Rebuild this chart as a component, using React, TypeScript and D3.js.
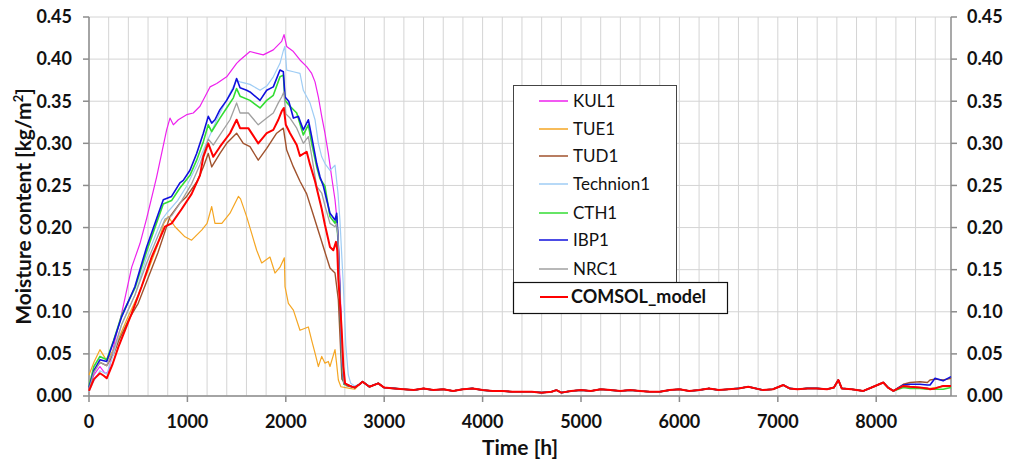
import React from "react";
import * as d3 from "d3";

// ---------- data ----------
const xTicks = [0, 1000, 2000, 3000, 4000, 5000, 6000, 7000, 8000];
const yTicks = [0, 0.05, 0.1, 0.15, 0.2, 0.25, 0.3, 0.35, 0.4, 0.45];

// shared low tail (all series overlap here)
const tailHours = [2750, 2780, 2850, 2940, 3000, 3100, 3200, 3300, 3400, 3500, 3600, 3700, 3800, 3900, 4000, 4100, 4200, 4300, 4400, 4500, 4600, 4700, 4750, 4800, 4900, 5000, 5100, 5200, 5300, 5400, 5500, 5600, 5700, 5800, 5900, 6000, 6100, 6200, 6300, 6400, 6500, 6600, 6700, 6850, 6950, 7056, 7120, 7200, 7300, 7395, 7500, 7570, 7615, 7650, 7750, 7869, 7971, 8072, 8120, 8174];
const tailValues = [0.014, 0.017, 0.011, 0.015, 0.010, 0.009, 0.008, 0.007, 0.009, 0.007, 0.008, 0.006, 0.008, 0.009, 0.007, 0.006, 0.006, 0.005, 0.005, 0.005, 0.004, 0.005, 0.007, 0.004, 0.006, 0.007, 0.006, 0.008, 0.007, 0.006, 0.007, 0.006, 0.005, 0.005, 0.007, 0.008, 0.006, 0.007, 0.009, 0.007, 0.008, 0.009, 0.011, 0.007, 0.008, 0.013, 0.009, 0.008, 0.009, 0.009, 0.008, 0.010, 0.019, 0.009, 0.008, 0.006, 0.011, 0.016, 0.010, 0.006];

const kulHours = [0, 50, 111, 163, 197, 264, 332, 434, 467, 518, 586, 687, 789, 823, 857, 908, 992, 1060, 1128, 1230, 1298, 1399, 1500, 1535, 1636, 1771, 1873, 1958, 1982, 2009, 2077, 2144, 2212, 2263, 2297, 2331, 2365, 2398, 2432, 2466, 2500, 2517, 2540, 2560, 2575, 2600, 2650, 2700];
const kulValues = [0.008, 0.025, 0.035, 0.027, 0.028, 0.066, 0.098, 0.153, 0.164, 0.181, 0.211, 0.260, 0.316, 0.330, 0.322, 0.328, 0.334, 0.336, 0.344, 0.367, 0.371, 0.379, 0.395, 0.399, 0.409, 0.405, 0.411, 0.421, 0.429, 0.415, 0.409, 0.399, 0.391, 0.383, 0.373, 0.355, 0.332, 0.312, 0.288, 0.260, 0.233, 0.213, 0.170, 0.100, 0.040, 0.015, 0.012, 0.010];

const tueHours = [0, 50, 111, 180, 250, 300, 400, 500, 603, 700, 760, 806, 874, 975, 1043, 1145, 1200, 1247, 1280, 1350, 1433, 1518, 1540, 1602, 1653, 1704, 1755, 1839, 1890, 1941, 1985, 1992, 2026, 2077, 2144, 2229, 2263, 2297, 2331, 2365, 2398, 2432, 2449, 2500, 2515, 2534, 2560, 2650, 2700];
const tueValues = [0.025, 0.040, 0.055, 0.042, 0.055, 0.068, 0.095, 0.120, 0.150, 0.180, 0.205, 0.213, 0.201, 0.189, 0.185, 0.197, 0.205, 0.225, 0.205, 0.205, 0.217, 0.237, 0.234, 0.213, 0.193, 0.173, 0.158, 0.165, 0.146, 0.153, 0.164, 0.130, 0.110, 0.102, 0.078, 0.082, 0.066, 0.051, 0.035, 0.047, 0.039, 0.041, 0.035, 0.055, 0.040, 0.019, 0.011, 0.009, 0.008];

const tudHours = [0, 50, 111, 180, 250, 300, 400, 500, 600, 700, 823, 924, 992, 1100, 1162, 1212, 1247, 1331, 1399, 1500, 1568, 1636, 1720, 1806, 1907, 1975, 2009, 2077, 2144, 2212, 2280, 2347, 2400, 2449, 2500, 2534, 2555, 2570, 2620, 2700];
const tudValues = [0.008, 0.030, 0.040, 0.036, 0.050, 0.065, 0.090, 0.110, 0.140, 0.170, 0.213, 0.229, 0.237, 0.255, 0.272, 0.288, 0.272, 0.288, 0.300, 0.312, 0.300, 0.296, 0.280, 0.294, 0.312, 0.318, 0.292, 0.272, 0.255, 0.240, 0.215, 0.190, 0.170, 0.152, 0.146, 0.114, 0.060, 0.020, 0.012, 0.010];

const techHours = [0, 50, 111, 180, 250, 332, 467, 586, 738, 789, 900, 992, 1100, 1162, 1230, 1298, 1400, 1500, 1535, 1636, 1738, 1806, 1873, 1941, 1975, 1990, 2009, 2077, 2144, 2178, 2246, 2297, 2331, 2365, 2398, 2449, 2500, 2530, 2550, 2585, 2610, 2635, 2660, 2700];
const techValues = [0.005, 0.018, 0.030, 0.026, 0.050, 0.085, 0.120, 0.165, 0.209, 0.217, 0.232, 0.249, 0.275, 0.292, 0.310, 0.328, 0.352, 0.375, 0.373, 0.370, 0.363, 0.368, 0.379, 0.395, 0.410, 0.415, 0.387, 0.385, 0.383, 0.363, 0.348, 0.328, 0.300, 0.284, 0.276, 0.268, 0.274, 0.241, 0.209, 0.130, 0.060, 0.025, 0.015, 0.012];

const cthHours = [0, 50, 111, 180, 250, 332, 467, 586, 700, 755, 839, 924, 1026, 1094, 1162, 1212, 1247, 1331, 1399, 1467, 1500, 1535, 1636, 1738, 1806, 1873, 1941, 1975, 1992, 2043, 2111, 2178, 2229, 2263, 2314, 2348, 2398, 2449, 2500, 2517, 2530, 2550, 2570, 2590, 2650, 2700];
const cthValues = [0.012, 0.035, 0.047, 0.043, 0.066, 0.096, 0.128, 0.172, 0.210, 0.228, 0.232, 0.247, 0.262, 0.280, 0.302, 0.322, 0.314, 0.330, 0.342, 0.354, 0.365, 0.356, 0.351, 0.342, 0.351, 0.357, 0.379, 0.381, 0.351, 0.344, 0.336, 0.310, 0.322, 0.300, 0.272, 0.258, 0.249, 0.213, 0.205, 0.213, 0.185, 0.115, 0.035, 0.014, 0.012, 0.010];

const ibpHours = [0, 50, 111, 180, 250, 332, 467, 586, 700, 755, 839, 924, 958, 1026, 1094, 1162, 1212, 1247, 1280, 1331, 1399, 1467, 1500, 1535, 1602, 1636, 1738, 1806, 1873, 1941, 1975, 1992, 2030, 2077, 2127, 2178, 2229, 2263, 2314, 2348, 2382, 2449, 2500, 2517, 2530, 2550, 2570, 2590, 2650, 2700];
const ibpValues = [0.010, 0.030, 0.043, 0.041, 0.065, 0.094, 0.130, 0.177, 0.215, 0.233, 0.237, 0.253, 0.256, 0.268, 0.288, 0.312, 0.332, 0.324, 0.328, 0.340, 0.351, 0.365, 0.377, 0.366, 0.363, 0.361, 0.351, 0.363, 0.367, 0.387, 0.385, 0.355, 0.350, 0.330, 0.332, 0.316, 0.328, 0.308, 0.276, 0.260, 0.249, 0.217, 0.209, 0.217, 0.189, 0.120, 0.040, 0.015, 0.012, 0.010];

const nrcHours = [0, 50, 111, 180, 250, 332, 467, 586, 700, 772, 840, 942, 1043, 1128, 1212, 1263, 1331, 1433, 1500, 1535, 1619, 1720, 1806, 1873, 1924, 1958, 1980, 2000, 2043, 2111, 2178, 2229, 2263, 2314, 2365, 2400, 2449, 2500, 2517, 2530, 2550, 2570, 2590, 2650, 2700];
const nrcValues = [0.008, 0.028, 0.040, 0.036, 0.055, 0.085, 0.120, 0.158, 0.190, 0.210, 0.214, 0.232, 0.252, 0.275, 0.305, 0.298, 0.310, 0.328, 0.348, 0.336, 0.336, 0.322, 0.330, 0.336, 0.348, 0.355, 0.361, 0.335, 0.330, 0.318, 0.300, 0.308, 0.285, 0.249, 0.241, 0.225, 0.205, 0.201, 0.205, 0.190, 0.120, 0.040, 0.015, 0.012, 0.010];

const comsolHours = [0, 50, 111, 150, 180, 240, 298, 434, 535, 637, 772, 840, 942, 1043, 1128, 1162, 1212, 1263, 1331, 1433, 1500, 1535, 1619, 1720, 1806, 1873, 1924, 1958, 1980, 2000, 2043, 2111, 2144, 2212, 2246, 2297, 2365, 2398, 2449, 2483, 2510, 2523, 2534, 2551, 2568, 2585, 2602, 2650, 2700];
const comsolValues = [0.006, 0.020, 0.027, 0.024, 0.021, 0.038, 0.058, 0.098, 0.130, 0.165, 0.201, 0.205, 0.222, 0.240, 0.262, 0.284, 0.300, 0.284, 0.296, 0.312, 0.328, 0.318, 0.318, 0.300, 0.312, 0.316, 0.328, 0.338, 0.342, 0.322, 0.312, 0.298, 0.285, 0.290, 0.275, 0.255, 0.222, 0.203, 0.177, 0.173, 0.183, 0.173, 0.138, 0.110, 0.078, 0.035, 0.015, 0.012, 0.010];

// end of year, where the series separate a little
const endHours = [8276, 8344, 8445, 8520, 8547, 8598, 8680, 8760];
const endRed = [0.012, 0.011, 0.010, 0.009, 0.008, 0.009, 0.012, 0.012];
const endTud = [0.014, 0.016, 0.017, 0.016, 0.019, 0.020, 0.019, 0.021];
const endIbp = [0.013, 0.014, 0.014, 0.013, 0.013, 0.021, 0.018, 0.023];
const endCth = [0.010, 0.009, 0.009, 0.008, 0.008, 0.008, 0.008, 0.010];
const endTue = [0.011, 0.010, 0.010, 0.009, 0.009, 0.010, 0.011, 0.011];

const seriesNames = ["KUL1", "TUE1", "TUD1", "Technion1", "CTH1", "IBP1", "NRC1", "COMSOL_model"];
const seriesColors = ["#ee22ee", "#f5a623", "#a0522d", "#9fcdf5", "#33dd33", "#1010dd", "#a0a0a0", "#ff0000"];
const seriesWidths = [1.2, 1.2, 1.4, 1.2, 1.6, 1.6, 1.3, 2.0];

const seriesHours = [kulHours, tueHours, tudHours, techHours, cthHours, ibpHours, nrcHours, comsolHours];
const seriesValues = [kulValues, tueValues, tudValues, techValues, cthValues, ibpValues, nrcValues, comsolValues];
const seriesEnds = [endRed, endTue, endTud, endRed, endCth, endIbp, endRed, endRed];

// ---------- layout ----------
const W = 1015, H = 461;
const X0 = 89, X1 = 951, Y0 = 17, Y1 = 396;
const FONT = "Lato, 'Open Sans', Arial, sans-serif";

export default function App() {
  const x = d3.scaleLinear().domain([0, 8760]).range([X0, X1]);
  const y = d3.scaleLinear().domain([0, 0.45]).range([Y1, Y0]);
  const line = d3.line<[number, number]>().x((d) => x(d[0])).y((d) => y(d[1]));

  const series = seriesNames.map((name, i) => {
    const pts: [number, number][] = [];
    seriesHours[i].forEach((h, j) => pts.push([h, seriesValues[i][j]]));
    tailHours.forEach((h, j) => pts.push([h, tailValues[j]]));
    endHours.forEach((h, j) => pts.push([h, seriesEnds[i][j]]));
    return { name, color: seriesColors[i], width: seriesWidths[i], d: line(pts) || "" };
  });

  const vGrid = d3.range(0, 8760, 200);
  const legendRows = [101, 129, 156, 184, 213, 240, 269];

  return (
    <svg width={W} height={H} style={{ position: "absolute", left: 0, top: 0, background: "#fff" }}>
      <rect x={0} y={0} width={W} height={H} fill="#fff" />
      {/* grid */}
      {vGrid.map((h) => (
        <line key={"v" + h} x1={x(h)} x2={x(h)} y1={Y0} y2={Y1} stroke="#d4d4d4" strokeWidth={1} />
      ))}
      {yTicks.map((v) => (
        <line key={"h" + v} x1={X0} x2={X1} y1={y(v)} y2={y(v)} stroke="#d4d4d4" strokeWidth={1} />
      ))}
      {/* axes lines */}
      <line x1={X0} x2={X0} y1={Y0} y2={Y1} stroke="#8c8c8c" strokeWidth={1.5} />
      <line x1={X1} x2={X1} y1={Y0} y2={Y1} stroke="#8c8c8c" strokeWidth={1.5} />
      <line x1={X0} x2={X1} y1={Y1} y2={Y1} stroke="#8c8c8c" strokeWidth={1.5} />
      {yTicks.map((v) => (
        <g key={"t" + v}>
          <line x1={X0 - 6} x2={X0} y1={y(v)} y2={y(v)} stroke="#8c8c8c" strokeWidth={1.5} />
          <line x1={X1} x2={X1 + 6} y1={y(v)} y2={y(v)} stroke="#8c8c8c" strokeWidth={1.5} />
          <text x={72} y={y(v)} dy="0.35em" textAnchor="end" fontFamily={FONT} fontWeight="bold" fontSize={18} fill="#111">
            {v.toFixed(2)}
          </text>
          <text x={967} y={y(v)} dy="0.35em" textAnchor="start" fontFamily={FONT} fontWeight="bold" fontSize={18} fill="#111">
            {v.toFixed(2)}
          </text>
        </g>
      ))}
      {xTicks.map((h) => (
        <g key={"x" + h}>
          <line x1={x(h)} x2={x(h)} y1={Y1} y2={Y1 + 6} stroke="#8c8c8c" strokeWidth={1.5} />
          <text x={x(h)} y={428} textAnchor="middle" fontFamily={FONT} fontWeight="bold" fontSize={18} fill="#111">
            {h}
          </text>
        </g>
      ))}
      {/* series */}
      {series.map((s) => (
        <path key={s.name} d={s.d} fill="none" stroke={s.color} strokeWidth={s.width} strokeLinejoin="round" />
      ))}
      {/* titles */}
      <text x={520} y={455} textAnchor="middle" fontFamily={FONT} fontWeight="bold" fontSize={21} fill="#111">
        Time [h]
      </text>
      <text
        transform={`translate(24,${(Y0 + Y1) / 2}) rotate(-90)`}
        textAnchor="middle"
        dy="0.35em"
        fontFamily={FONT}
        fontWeight="bold"
        fontSize={21}
        fill="#111"
      >
        Moisture content [kg/m<tspan dy="-8" fontSize={13}>2</tspan>
        <tspan dy="8">]</tspan>
      </text>
      {/* legend */}
      <rect x={513.5} y={85.5} width={163} height={197} fill="#fff" stroke="#444" strokeWidth={1} />
      {seriesNames.slice(0, 7).map((n, i) => (
        <g key={"l" + n}>
          <line x1={539} x2={568} y1={legendRows[i]} y2={legendRows[i]} stroke={seriesColors[i]} strokeWidth={1.5} />
          <text x={573} y={legendRows[i]} dy="0.35em" fontFamily={FONT} fontSize={17} fill="#111">
            {n}
          </text>
        </g>
      ))}
      <rect x={513.5} y={282.5} width={214} height={31} fill="#fff" stroke="#111" strokeWidth={1.2} />
      <line x1={540} x2={568} y1={297} y2={297} stroke={seriesColors[7]} strokeWidth={2} />
      <text x={571} y={297} dy="0.35em" fontFamily={FONT} fontWeight="bold" fontSize={18} fill="#111">
        {seriesNames[7]}
      </text>
    </svg>
  );
}
